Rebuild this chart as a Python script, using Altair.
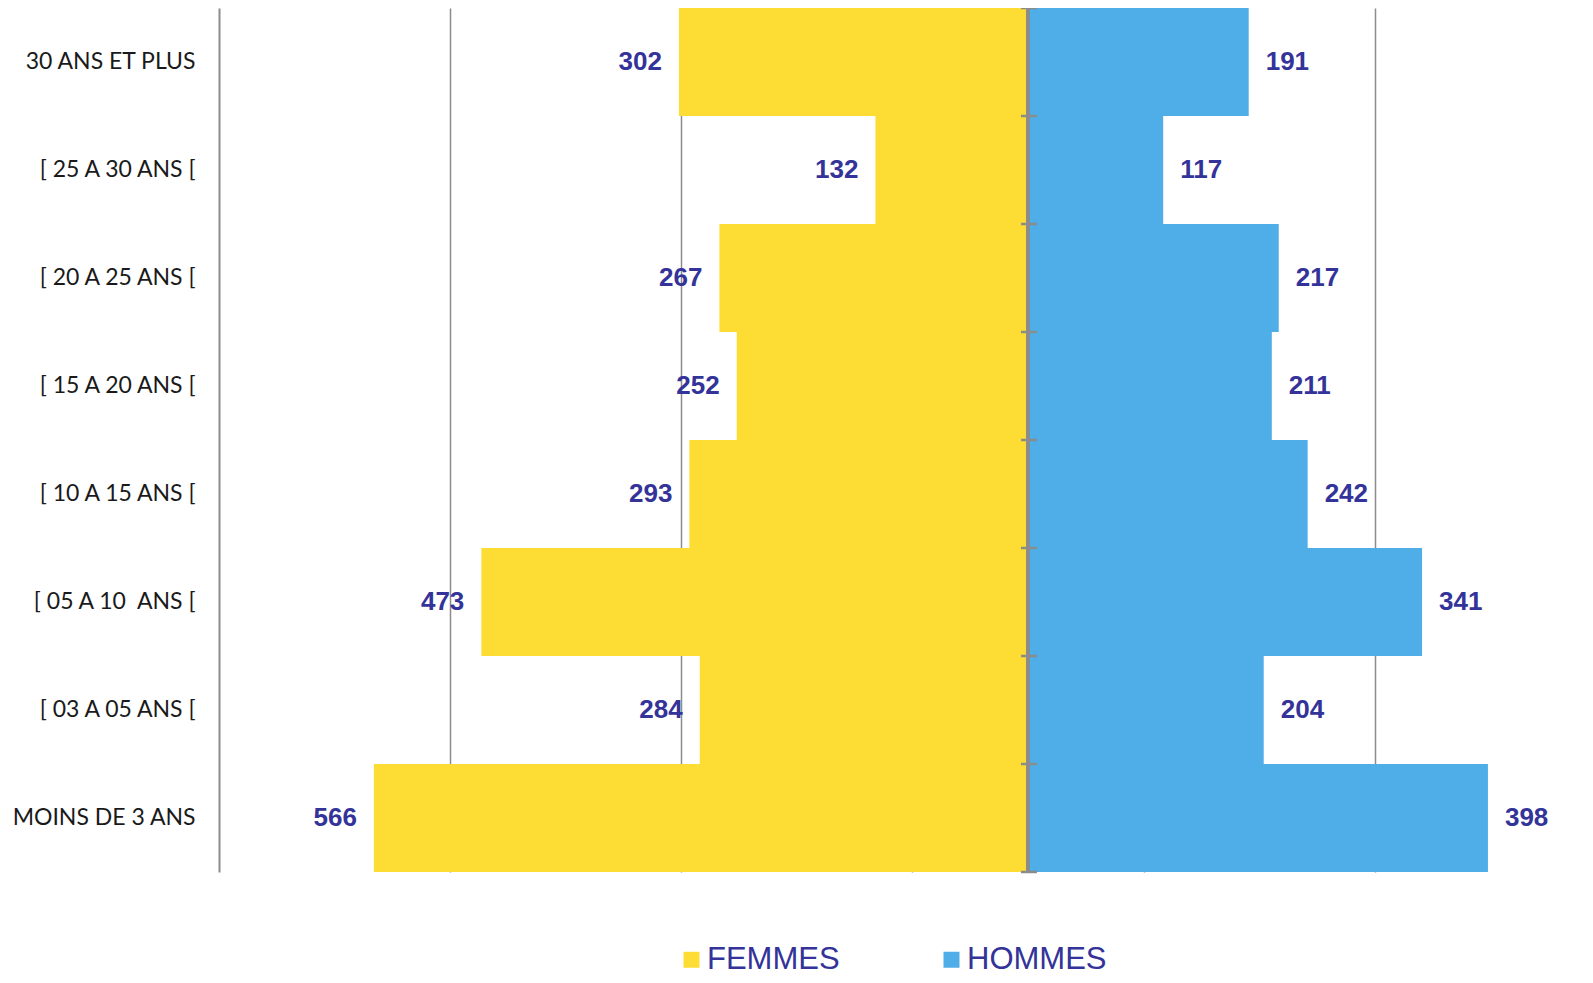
import altair as alt
import pandas as pd

categories = [
    "30 ANS ET PLUS",
    "[ 25 A 30 ANS [",
    "[ 20 A 25 ANS [",
    "[ 15 A 20 ANS [",
    "[ 10 A 15 ANS [",
    "[ 05 A 10\u00a0 ANS [",
    "[ 03 A 05 ANS [",
    "MOINS DE 3 ANS",
]
femmes = [302, 132, 267, 252, 293, 473, 284, 566]
hommes = [191, 117, 217, 211, 242, 341, 204, 398]
series = ["FEMMES", "HOMMES"]
colors = ["#FDDC34", "#4FADE8"]
grid_values = [-500, -300, -100, 100, 300]
x_domain = [-700, 482]

rows = []
for c, f, h in zip(categories, femmes, hommes):
    rows.append({"age": c, "sexe": series[0], "n": f, "x": -f})
    rows.append({"age": c, "sexe": series[1], "n": h, "x": h})
df = pd.DataFrame(rows)
ticks_df = pd.DataFrame({"age": categories})
last_df = pd.DataFrame({"age": [categories[-1]]})

GRAY = "#8C8C8C"
LABEL = "#333399"

xscale = alt.Scale(domain=x_domain, nice=False, zero=False)
yscale = alt.Scale(domain=categories, paddingInner=0, paddingOuter=0)

xaxis = alt.Axis(
    values=grid_values, grid=True, gridColor=GRAY, gridWidth=1.5,
    labels=False, ticks=False, domain=False, title=None,
)
yaxis = alt.Axis(
    title=None, ticks=False, domain=True, domainColor=GRAY, domainWidth=2,
    labelFont="Lato", labelFontSize=23, labelColor="#1a1a1a",
    labelPadding=24, labelLimit=400, grid=False,
)

base = alt.Chart(df)

bars = base.mark_bar().encode(
    x=alt.X("x:Q", scale=xscale, axis=xaxis),
    y=alt.Y("age:N", sort=categories, scale=yscale, axis=yaxis),
    color=alt.Color(
        "sexe:N",
        scale=alt.Scale(domain=series, range=colors),
        legend=alt.Legend(
            title=None, orient="none", legendX=457, legendY=936,
            direction="horizontal", columns=2, symbolType="square",
            symbolSize=256, symbolStrokeWidth=0, labelFontSize=31,
            labelFont="Liberation Sans", labelColor=LABEL, labelOffset=0,
            columnPadding=96, labelLimit=400, padding=0,
        ),
    ),
)

center = alt.Chart(ticks_df).mark_rule(color=GRAY, strokeWidth=3).encode(
    x=alt.datum(0, scale=xscale)
)

ticks_top = alt.Chart(ticks_df).mark_rule(
    color=GRAY, strokeWidth=2.5, xOffset=-7, x2Offset=9
).encode(
    x=alt.datum(0, scale=xscale),
    x2=alt.datum(0),
    y=alt.Y("age:N", sort=categories, scale=yscale, bandPosition=0),
)
ticks_bottom = alt.Chart(last_df).mark_rule(
    color=GRAY, strokeWidth=2.5, xOffset=-7, x2Offset=9
).encode(
    x=alt.datum(0, scale=xscale),
    x2=alt.datum(0),
    y=alt.Y("age:N", sort=categories, scale=yscale, bandPosition=1),
)

text_f = base.transform_filter(alt.datum.sexe == series[0]).mark_text(
    align="right", baseline="middle", dx=-17, font="Liberation Sans",
    fontWeight="bold", fontSize=26, color=LABEL,
).encode(
    x=alt.X("x:Q", scale=xscale),
    y=alt.Y("age:N", sort=categories, scale=yscale),
    text="n:Q",
)
text_h = base.transform_filter(alt.datum.sexe == series[1]).mark_text(
    align="left", baseline="middle", dx=17, font="Liberation Sans",
    fontWeight="bold", fontSize=26, color=LABEL,
).encode(
    x=alt.X("x:Q", scale=xscale),
    y=alt.Y("age:N", sort=categories, scale=yscale),
    text="n:Q",
)

chart = (
    alt.layer(bars, center, ticks_top, ticks_bottom, text_f, text_h)
    .properties(
        width=1366,
        height=864,
        background="white",
        autosize=alt.AutoSizeParams(type="none"),
        padding={"left": 211, "top": 0, "right": 0, "bottom": 103},
    )
    .configure_view(strokeWidth=0, stroke="transparent")
)

chart.save("out.html", embed_options={"renderer": "svg", "actions": False})
